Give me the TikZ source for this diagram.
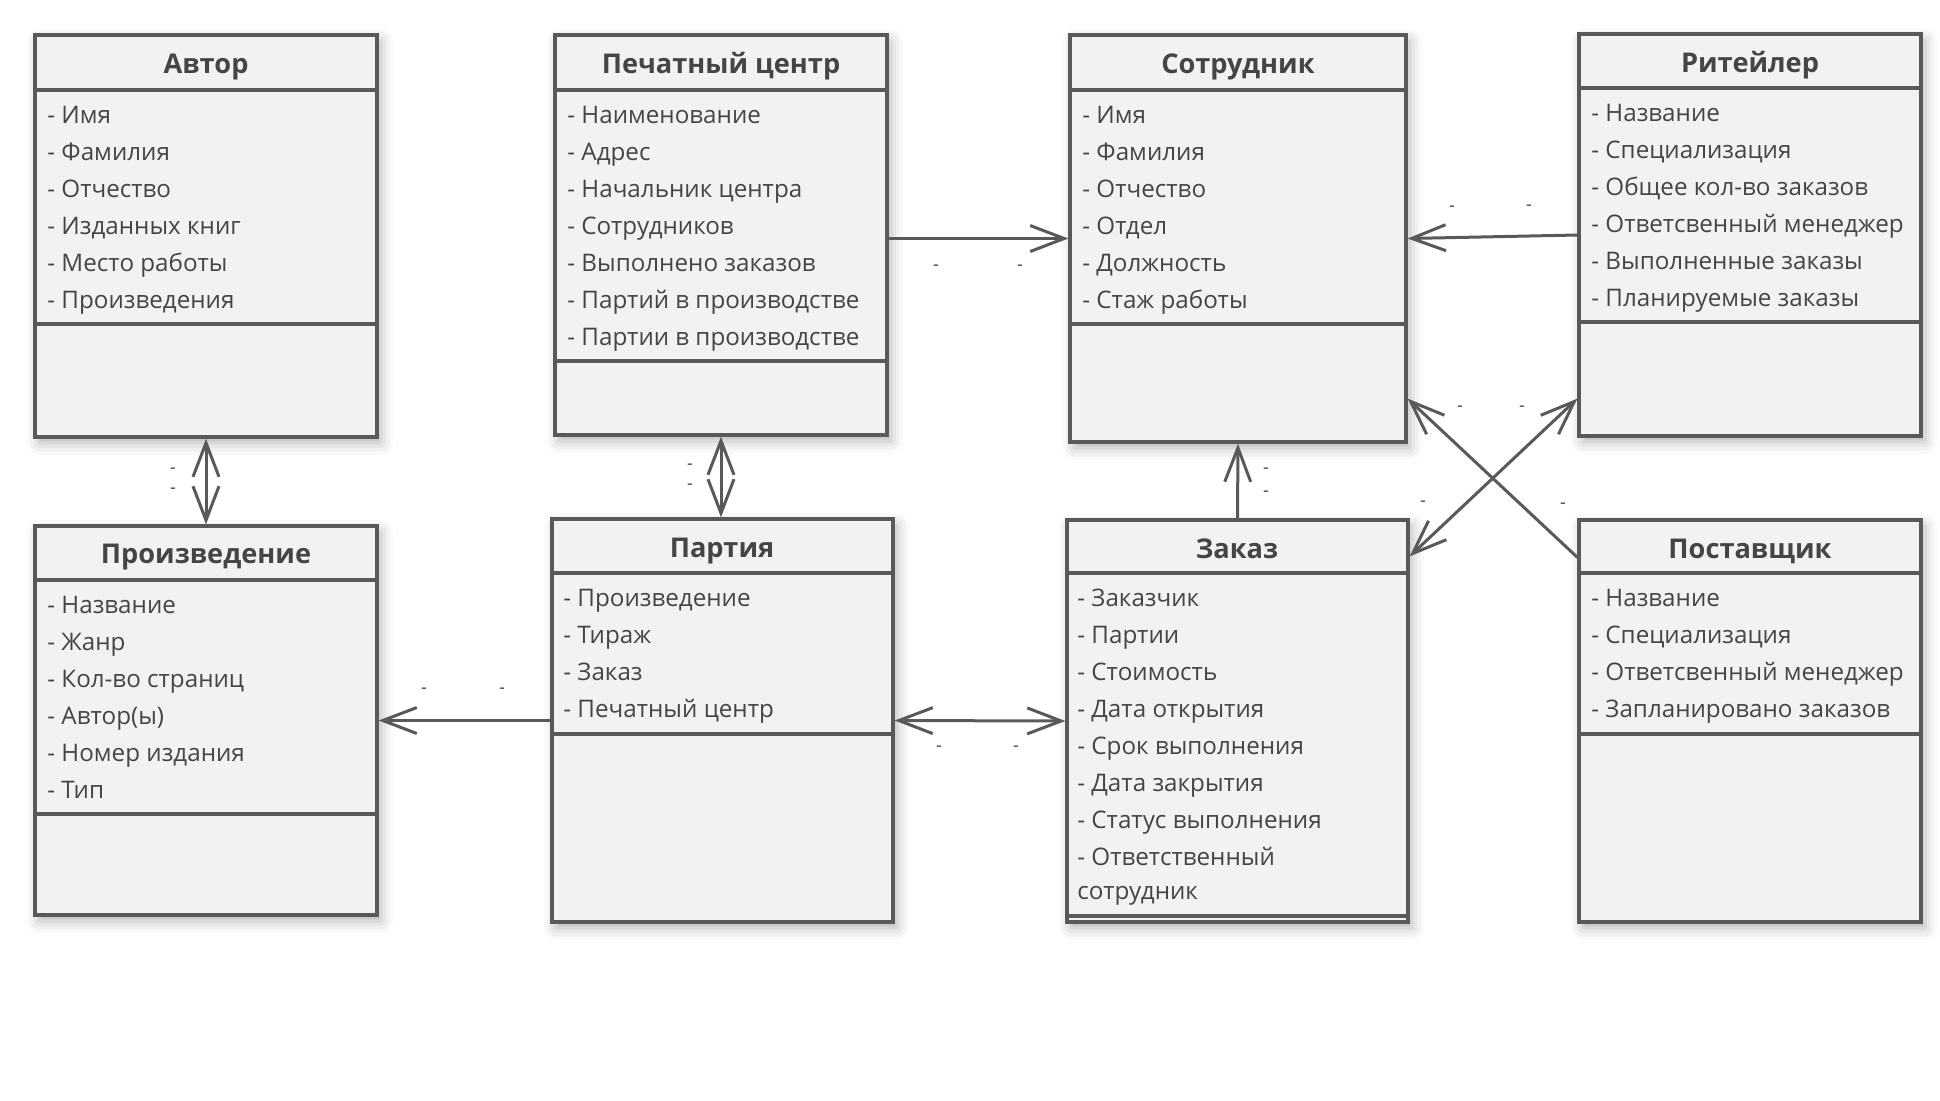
\documentclass[tikz,border=0pt]{standalone}
\usepackage{fontspec}
\setmainfont{Open Sans}
\usetikzlibrary{arrows.meta,fit,shadows.blur}
\definecolor{umlline}{HTML}{595959}
\definecolor{umlfill}{HTML}{F2F2F2}
\definecolor{umltext}{HTML}{454545}
\tikzset{
  cls/.style={draw=umlline, line width=1.6pt, fill=umlfill, inner sep=0pt,
    blur shadow={shadow xshift=2pt, shadow yshift=-3pt, shadow blur radius=6pt, shadow opacity=30}},
  sep/.style={draw=umlline, line width=1.6pt},
  title/.style={anchor=base, font=\bfseries\fontsize{13.6}{15}\selectfont, text=umltext},
  attrs/.style={anchor=north west, align=left, inner sep=0pt, font=\fontsize{12.1}{18.5}\selectfont, text=umltext},
  barb/.tip={Straight Barb[length=17pt,width=13pt,line width=1.5pt]},
  assoc/.style={draw=umlline, line width=1.5pt, -barb},
  both/.style={draw=umlline, line width=1.5pt, barb-barb},
  mult/.style={font=\fontsize{9}{9}\selectfont, text=umltext, inner sep=0pt, text height=3pt, text depth=-1.5pt},
}
\begin{document}
\begin{tikzpicture}[x=0.5pt,y=-0.5pt]
\useasboundingbox (0,0) rectangle (1940,1100);
% classes
\node[cls, fit={(35,35) (377,437)}] (avtor) {};
\draw[sep] (35,90) -- (377,90) (35,324) -- (377,324);
\node[title] (avtorT) at (206,73) {Автор};
\node[attrs] (avtorA) at (47,106) {- Имя\\- Фамилия\\- Отчество\\- Изданных книг\\- Место работы\\- Произведения};

\node[cls, fit={(555,35) (887,435)}] (pechat) {};
\draw[sep] (555,90) -- (887,90) (555,361) -- (887,361);
\node[title] (pechatT) at (721,73) {Печатный центр};
\node[attrs] (pechatA) at (567,106) {- Наименование\\- Адрес\\- Начальник центра\\- Сотрудников\\- Выполнено заказов\\- Партий в производстве\\- Партии в производстве};

\node[cls, fit={(1070,35) (1406,442)}] (sotr) {};
\draw[sep] (1070,90) -- (1406,90) (1070,324) -- (1406,324);
\node[title] (sotrT) at (1238,73) {Сотрудник};
\node[attrs] (sotrA) at (1082,106) {- Имя\\- Фамилия\\- Отчество\\- Отдел\\- Должность\\- Стаж работы};

\node[cls, fit={(1579,34) (1921,436)}] (ritejl) {};
\draw[sep] (1579,88) -- (1921,88) (1579,322) -- (1921,322);
\node[title] (ritejlT) at (1750,72) {Ритейлер};
\node[attrs] (ritejlA) at (1591,104) {- Название\\- Специализация\\- Общее кол-во заказов\\- Ответсвенный менеджер\\- Выполненные заказы\\- Планируемые заказы};

\node[cls, fit={(35,526) (377,915)}] (proizv) {};
\draw[sep] (35,580) -- (377,580) (35,814) -- (377,814);
\node[title] (proizvT) at (206,563) {Произведение};
\node[attrs] (proizvA) at (47,596) {- Название\\- Жанр\\- Кол-во страниц\\- Автор(ы)\\- Номер издания\\- Тип};

\node[cls, fit={(552,519) (893,922)}] (partiya) {};
\draw[sep] (552,573) -- (893,573) (552,734) -- (893,734);
\node[title] (partiyaT) at (722,557) {Партия};
\node[attrs] (partiyaA) at (563,589) {- Произведение\\- Тираж\\- Заказ\\- Печатный центр};

\node[cls, fit={(1067,520) (1408,922)}] (zakaz) {};
\draw[sep] (1067,573) -- (1408,573) (1067,916) -- (1408,916);
\node[title] (zakazT) at (1237,558) {Заказ};
\node[attrs] (zakazA) at (1077,589) {- Заказчик\\- Партии\\- Стоимость\\- Дата открытия\\- Срок выполнения\\- Дата закрытия\\- Статус выполнения\\- Ответственный\\[-1.5pt]сотрудник};

\node[cls, fit={(1579,520) (1921,922)}] (postav) {};
\draw[sep] (1579,573) -- (1921,573) (1579,734) -- (1921,734);
\node[title] (postavT) at (1750,558) {Поставщик};
\node[attrs] (postavA) at (1591,589) {- Название\\- Специализация\\- Ответсвенный менеджер\\- Запланировано заказов};

% associations
\draw[both] (avtor.south) -- (proizv.north);
\draw[both] (pechat.south) -- (pechat.south |- partiya.north);
\draw[assoc] (pechat.east |- sotr.west) -- (sotr.west);
\draw[assoc] (ritejl.west) -- (sotr.east);
\draw[assoc] (zakaz.north) -- (sotr.south);
\draw[assoc] ([yshift=-19.5pt]postav.north west) -- ([yshift=22.5pt]sotr.south east);
\draw[both] ([yshift=-19pt]zakaz.north east) -- ([yshift=19.5pt]ritejl.south west);
\draw[assoc] (partiya.west) -- (proizv.east);
\draw[both] (partiya.east) -- (zakaz.west);

% multiplicities
\node[mult] (m1) at (173,470) {-};
\node[mult] (m2) at (173,490) {-};
\node[mult] (m3) at (690,466) {-};
\node[mult] (m4) at (690,486) {-};
\node[mult] (m5) at (936,267) {-};
\node[mult] (m6) at (1020,267) {-};
\node[mult] (m7) at (1452,208) {-};
\node[mult] (m8) at (1529,207) {-};
\node[mult] (m9) at (1266,470) {-};
\node[mult] (m10) at (1266,493) {-};
\node[mult] (m11) at (1460,408) {-};
\node[mult] (m12) at (1522,408) {-};
\node[mult] (m13) at (1423,503) {-};
\node[mult] (m14) at (1563,505) {-};
\node[mult] (m15) at (424,690) {-};
\node[mult] (m16) at (502,690) {-};
\node[mult] (m17) at (939,748) {-};
\node[mult] (m18) at (1016,748) {-};
\end{tikzpicture}
\end{document}
